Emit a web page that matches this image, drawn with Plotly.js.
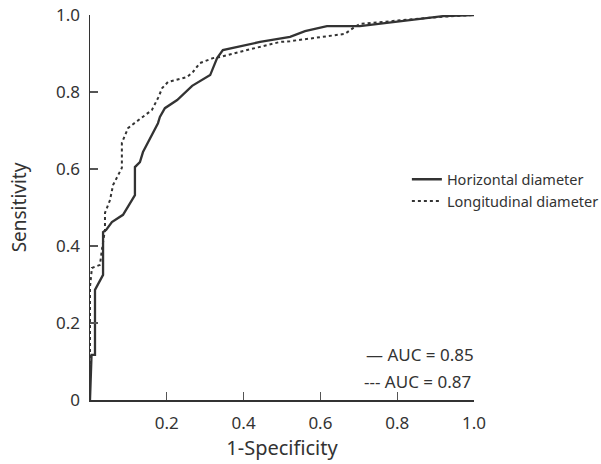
<!DOCTYPE html>
<html>
<head>
<meta charset="utf-8">
<script src="https://cdn.plot.ly/plotly-3.0.1.min.js"></script>
<style>html,body{margin:0;padding:0;background:#fff;}#chart{width:601px;height:464px;}</style>
</head>
<body>
<div id="chart"></div>
<script>
const seriesNames = ["Horizontal diameter", "Longitudinal diameter"];
const horizX = [0, 0.004, 0.013, 0.013, 0.034, 0.034, 0.042, 0.057, 0.086, 0.117, 0.117, 0.130, 0.138, 0.177, 0.182, 0.195, 0.227, 0.266, 0.313, 0.320, 0.331, 0.346, 0.443, 0.521, 0.560, 0.617, 0.703, 0.919, 1.0];
const horizY = [0, 0.117, 0.117, 0.286, 0.325, 0.436, 0.442, 0.462, 0.481, 0.532, 0.605, 0.618, 0.644, 0.719, 0.735, 0.758, 0.779, 0.816, 0.844, 0.862, 0.888, 0.909, 0.930, 0.943, 0.958, 0.971, 0.971, 0.997, 1.0];
const longX = [0, 0, 0.005, 0.026, 0.031, 0.039, 0.039, 0.052, 0.060, 0.083, 0.083, 0.099, 0.109, 0.161, 0.177, 0.188, 0.203, 0.253, 0.268, 0.286, 0.320, 0.339, 0.409, 0.495, 0.521, 0.664, 0.685, 0.703, 0.911, 1.0];
const longY = [0, 0.294, 0.343, 0.351, 0.390, 0.442, 0.486, 0.519, 0.558, 0.603, 0.668, 0.706, 0.714, 0.753, 0.784, 0.810, 0.826, 0.839, 0.852, 0.875, 0.888, 0.891, 0.909, 0.930, 0.932, 0.951, 0.966, 0.977, 0.995, 1.0];
const xTickVals = [0.2, 0.4, 0.6, 0.8, 1.0];
const xTickText = ["0.2", "0.4", "0.6", "0.8", "1.0"];
const yTickVals = [0, 0.2, 0.4, 0.6, 0.8, 1.0];
const yTickText = ["0", "0.2", "0.4", "0.6", "0.8", "1.0"];
const aucLabels = ["— AUC = 0.85", "--- AUC = 0.87"];

const FONT = "Noto Sans, Open Sans, sans-serif";
const INK = "#333333";

const traces = [
  {x: horizX, y: horizY, mode: "lines", name: seriesNames[0],
   line: {color: INK, width: 2.3, dash: "solid"}},
  {x: longX, y: longY, mode: "lines", name: seriesNames[1],
   line: {color: INK, width: 2, dash: "dot"}}
];

const axisCommon = {
  showgrid: false, zeroline: false, showline: true, linecolor: INK, linewidth: 1.5,
  ticks: "inside", ticklen: 8, tickwidth: 1.2, tickcolor: "#555",
  tickfont: {family: FONT, size: 17, color: INK}, fixedrange: true, automargin: false
};

const layout = {
  width: 601, height: 464,
  margin: {l: 90, r: 127, t: 15, b: 64, autoexpand: false},
  paper_bgcolor: "#fff", plot_bgcolor: "#fff",
  font: {family: FONT, color: INK},
  xaxis: Object.assign({}, axisCommon, {
    range: [0, 1.0], tickmode: "array", tickvals: xTickVals, ticktext: xTickText,
    ticklabelstandoff: 7,
    title: {text: "1-Specificity", font: {family: FONT, size: 20, color: INK}, standoff: 6}
  }),
  yaxis: Object.assign({}, axisCommon, {
    range: [0, 1.0], tickmode: "array", tickvals: yTickVals, ticktext: yTickText,
    ticklabelstandoff: 5,
    title: {text: "Sensitivity", font: {family: FONT, size: 19, color: INK}, standoff: 24}
  }),
  showlegend: true,
  legend: {xref: "container", yref: "container", x: 0.677, y: 0.648, xanchor: "left", yanchor: "top",
           font: {family: FONT, size: 14.5, color: INK}, bgcolor: "rgba(0,0,0,0)",
           tracegroupgap: 0, itemwidth: 30},
  annotations: [
    {xref: "paper", yref: "paper", x: 0.714, y: 0.119, xanchor: "left", yanchor: "middle",
     text: aucLabels[0], showarrow: false, font: {family: FONT, size: 17, color: INK}},
    {xref: "paper", yref: "paper", x: 0.709, y: 0.049, xanchor: "left", yanchor: "middle",
     text: aucLabels[1], showarrow: false, font: {family: FONT, size: 17, color: INK}}
  ]
};

Plotly.newPlot("chart", traces, layout, {staticPlot: true, displayModeBar: false});
</script>
</body>
</html>
